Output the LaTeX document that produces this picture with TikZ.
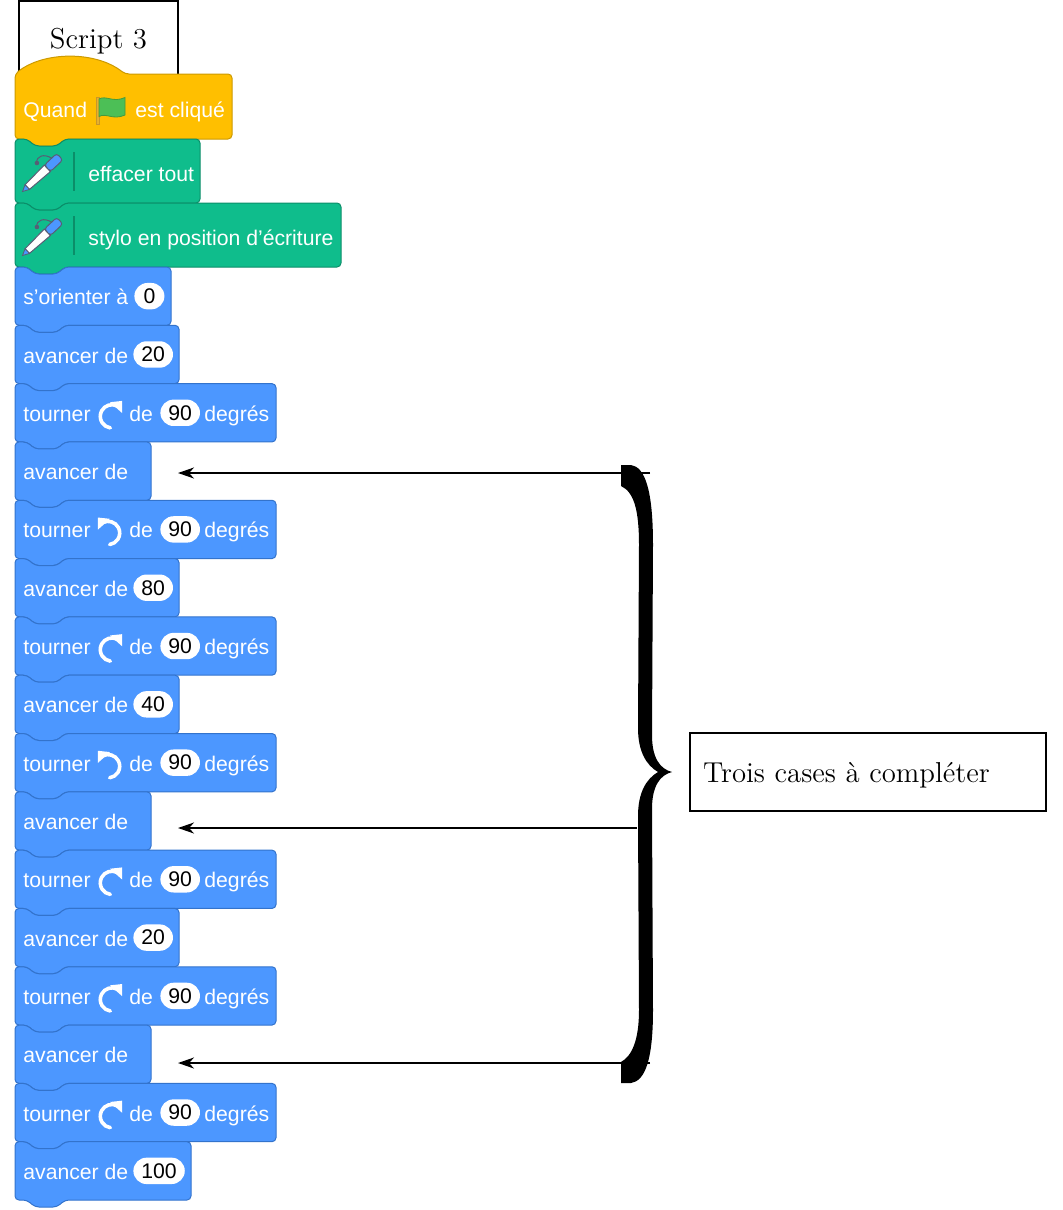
\documentclass[tikz,border=0pt]{standalone}
\usepackage{fontspec}
\newfontfamily\scrfont{Liberation Sans}
\usetikzlibrary{arrows.meta}
\definecolor{hatY}{HTML}{FFBF00}
\definecolor{hatD}{HTML}{CC9900}
\definecolor{penG}{HTML}{0FBD8C}
\definecolor{penD}{HTML}{0B8E69}
\definecolor{motB}{HTML}{4C97FF}
\definecolor{motD}{HTML}{3373CC}
\definecolor{flagG}{HTML}{4CBF56}
\definecolor{flagD}{HTML}{45993D}
\definecolor{poleY}{HTML}{E6B12E}
\definecolor{poleD}{HTML}{C9962A}
\definecolor{inkG}{HTML}{575E75}
\newcommand\sfnt{\scrfont\fontsize{10.6}{12}\selectfont}
\newcommand\rmfnt{\fontsize{14.4}{16}\selectfont}
\newcommand\sblk[5]{%
  \filldraw[fill=#1,draw=#2,line width=0.5pt,rounded corners=2pt]
   (15,{(#3+#4)/2}) -- (15,#3) -- (27,#3) -- (35,{#3+7}) -- (57,{#3+7}) -- (65,#3)
   -- (#5,#3) -- (#5,#4) -- (65,#4) -- (57,{#4+7}) -- (35,{#4+7}) -- (27,#4) -- (15,#4) -- cycle;}
\newcommand\rotarrow{%
  \begin{scope}[scale=1.08]
  \draw[white,line width=1.8pt,line cap=round] (1.8,3.3) ++(-62:10.8) arc[start angle=-62,end angle=-262,radius=10.8];
  \fill[white] (0,-9.8) -- (11.3,-11) -- (11.3,0.3) -- cycle;
  \end{scope}}
\tikzset{
  lbl/.style={anchor=base west,inner sep=0pt,text=white,font=\sfnt},
  oval/.style={anchor=west,fill=white,text=black,font=\sfnt,rounded corners=6.6pt,minimum height=13.2pt,minimum width=15pt,inner xsep=4pt,inner ysep=0pt},
  arr/.style={line width=0.9pt,-{Stealth[length=8pt,width=5.5pt,inset=2.5pt]}},
  cwarrow/.pic={\rotarrow},
  ccwarrow/.pic={\begin{scope}[xscale=-1]\rotarrow\end{scope}},
  penicon/.pic={
    \begin{scope}[rotate=43]
      \draw[inkG,line width=0.5pt] (30,-11) .. controls (34,-17) and (42,-13) .. (44,-4.5);
      \fill[inkG] (30,-11) circle (2.3);
      \filldraw[fill=white,draw=inkG,line width=0.5pt] (6.5,-3.2) -- (34,-4.5) -- (34,4.5) -- (6.5,3.2) -- cycle;
      \filldraw[fill=motB,draw=inkG,line width=0.4pt] (0,0) -- (6.5,-3.2) -- (6.5,3.2) -- cycle;
      \filldraw[fill=motB,draw=inkG,line width=0.5pt,rounded corners=1.5pt] (34,-4.5) -- (51,-4.5) -- (51,4.5) -- (34,4.5) -- cycle;
    \end{scope}}
}
\newcommand\avrow[4]{%
  \sblk{motB}{motD}{#2}{#2+58.3125}{#3}
  \node[lbl] (#1t) at (23,#2+37.7) {avancer de};
  \node[oval] (#1v) at (133,#2+29.16) {#4};}
\newcommand\avempty[2]{%
  \sblk{motB}{motD}{#2}{#2+58.3125}{151}
  \node[lbl] (#1t) at (23,#2+37.7) {avancer de};}
\newcommand\turow[3]{%
  \sblk{motB}{motD}{#2}{#2+58.3125}{276}
  \node[lbl] (#1t) at (23,#2+37.7) {tourner};
  \pic at (110,#2+29.16) {#3};
  \node[lbl] (#1d) at (129,#2+37.7) {de};
  \node[oval] (#1v) at (160,#2+29.16) {90};
  \node[lbl] (#1g) at (204,#2+37.7) {degrés};}
\begin{document}
\begin{tikzpicture}[x=0.5pt,y=-0.5pt]
\useasboundingbox (0,0) rectangle (1062,1210);
% title box
\node[draw,line width=1pt,minimum width=79.5pt,minimum height=37pt,font=\rmfnt,text depth=0pt,inner sep=0pt] (title) at (98.5,38) {Script 3};
% hat block
\filldraw[fill=hatY,draw=hatD,line width=0.5pt,rounded corners=2pt] (15,107) -- (15,74) .. controls (44,51) and (96,51) .. (125,74) -- (232,74) -- (232,139) -- (65,139) -- (57,146) -- (35,146) -- (27,139) -- (15,139) -- cycle;
\node[lbl] (quand) at (23,117.3) {Quand};
\filldraw[fill=poleY,draw=poleD,line width=0.3pt] (96.5,97) rectangle (99,124);
\filldraw[fill=flagG,draw=flagD,line width=0.4pt] (99,99) .. controls (106,95) and (113,103) .. (125,97.5) -- (125,115) .. controls (113,120.5) and (106,112.5) .. (99,116.5) -- cycle;
\node[lbl] (clique) at (135,117.3) {est cliqué};
% pen blocks
\sblk{penG}{penD}{139}{203}{200}
\pic at (22.5,191.5) {penicon};
\draw[penD,line width=0.7pt] (74,152) -- (74,191);
\node[lbl] (eff) at (88,181.5) {effacer tout};
\sblk{penG}{penD}{203}{267}{341}
\pic at (22.5,255.5) {penicon};
\draw[penD,line width=0.7pt] (74,216) -- (74,255);
\node[lbl] (sty) at (88,245.5) {stylo en position d’écriture};
% motion blocks
\sblk{motB}{motD}{267}{325.31}{171}
\node[lbl] (orit) at (23,304.7) {s’orienter à};
\node[oval] (oriv) at (134,296.16) {0};
\avrow{a1}{325.31}{179}{20}
\turow{b1}{383.63}{cwarrow}
\avempty{e1}{441.94}
\turow{b2}{500.25}{ccwarrow}
\avrow{a2}{558.56}{179}{80}
\turow{b3}{616.88}{cwarrow}
\avrow{a3}{675.19}{179}{40}
\turow{b4}{733.5}{ccwarrow}
\avempty{e2}{791.81}
\turow{b5}{850.13}{cwarrow}
\avrow{a4}{908.44}{179}{20}
\turow{b6}{966.75}{cwarrow}
\avempty{e3}{1025.06}
\turow{b7}{1083.38}{cwarrow}
\avrow{a5}{1141.69}{191}{100}
% arrows
\coordinate (s1) at (650,473);
\coordinate (t1) at (178,473);
\coordinate (s2) at (637,828);
\coordinate (t2) at (178,828);
\coordinate (s3) at (650,1063);
\coordinate (t3) at (178,1063);
\draw[arr] (s1) -- (t1);
\draw[arr] (s2) -- (t2);
\draw[arr] (s3) -- (t3);
% brace
\fill[black] (621,465) -- (631,465)
  .. controls (645,467) and (653,490) .. (653,545)
  -- (652,735)
  .. controls (652,758) and (660,769) .. (672,772)
  .. controls (660,775) and (652,786) .. (652,809)
  -- (653,1010)
  .. controls (653,1060) and (645,1081) .. (631,1083)
  -- (621,1083) -- (621,1062)
  .. controls (632,1056) and (639,1040) .. (639,1010)
  -- (638,816)
  .. controls (638,793) and (646,779) .. (658,772)
  .. controls (646,765) and (638,751) .. (638,728)
  -- (639,545)
  .. controls (639,510) and (634,492) .. (621,486)
  -- cycle;
% note box
\node[draw,line width=1pt,text width=165pt,align=left,inner xsep=6.5pt,minimum height=39pt,font=\rmfnt,text depth=0pt,anchor=west] (note) at (689,772) {Trois cases à compléter};
\end{tikzpicture}
\end{document}
